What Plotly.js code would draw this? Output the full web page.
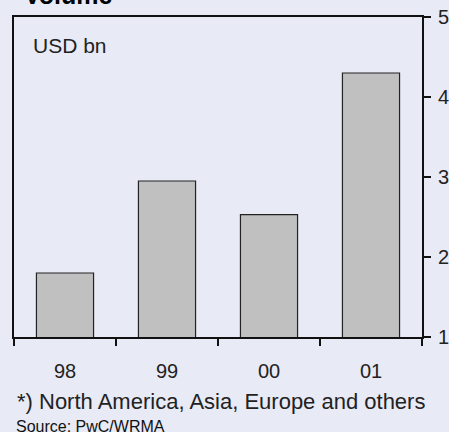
<!DOCTYPE html>
<html>
<head>
<meta charset="utf-8">
<script src="https://cdn.plot.ly/plotly-3.0.1.min.js"></script>
<style>html,body{margin:0;padding:0;background:#E8EAF6;}</style>
</head>
<body>
<div id="chart" style="width:449px;height:432px;"></div>
<script>
const years = ["98", "99", "00", "01"];
const volume = [1.80, 2.95, 2.53, 4.30];
const yTicks = [1, 2, 3, 4, 5];
const titleText = "Volume";
const unitText = "USD bn";
const noteText = "*) North America, Asia, Europe and others";
const sourceText = "Source: PwC/WRMA";

const FONT = "Liberation Sans, Arial, Helvetica, sans-serif";
const BG = "#E8EAF6";

const trace = {
  type: "bar",
  x: years,
  y: volume,
  marker: {color: "#C0C0C0", line: {color: "#222222", width: 1.2}},
  hoverinfo: "skip"
};

const layout = {
  width: 449, height: 432,
  margin: {l: 14, r: 27, t: 17, b: 95, pad: 0},
  paper_bgcolor: BG, plot_bgcolor: BG,
  showlegend: false,
  bargap: 0.44,
  font: {family: FONT, color: "#222222", size: 20},
  xaxis: {
    type: "category",
    showline: true, mirror: true, linecolor: "#111", linewidth: 2,
    ticks: "outside", ticklen: 7, tickwidth: 1.5, tickcolor: "#111",
    tickson: "boundaries",
    ticklabelstandoff: 15,
    showgrid: false, zeroline: false,
    tickfont: {family: FONT, size: 20, color: "#222"}
  },
  yaxis: {
    side: "right",
    range: [1, 5],
    tickvals: yTicks, ticktext: yTicks.map(String),
    showline: true, mirror: true, linecolor: "#111", linewidth: 2,
    ticks: "outside", ticklen: 7, tickwidth: 1.5, tickcolor: "#111",
    ticklabelstandoff: 3,
    showgrid: false, zeroline: false,
    tickfont: {family: FONT, size: 20, color: "#222"}
  },
  annotations: [
    {text: "<b>" + titleText + "</b>", xref: "paper", yref: "paper", x: 0.0196, y: 1.069,
     xanchor: "left", yanchor: "middle", showarrow: false, font: {family: FONT, size: 25, color: "#000"}},
    {text: unitText, xref: "paper", yref: "paper", x: 0.042, y: 0.9125,
     xanchor: "left", yanchor: "middle", showarrow: false, font: {family: FONT, size: 21, color: "#222"}},
    {text: noteText, xref: "paper", yref: "paper", x: 0.002, y: -0.202,
     xanchor: "left", yanchor: "middle", showarrow: false, font: {family: FONT, size: 22, color: "#222"}},
    {text: sourceText, xref: "paper", yref: "paper", x: 0.0, y: -0.281,
     xanchor: "left", yanchor: "middle", showarrow: false, font: {family: FONT, size: 16, color: "#111"}}
  ]
};

Plotly.newPlot("chart", [trace], layout, {displayModeBar: false, staticPlot: true});
</script>
</body>
</html>
